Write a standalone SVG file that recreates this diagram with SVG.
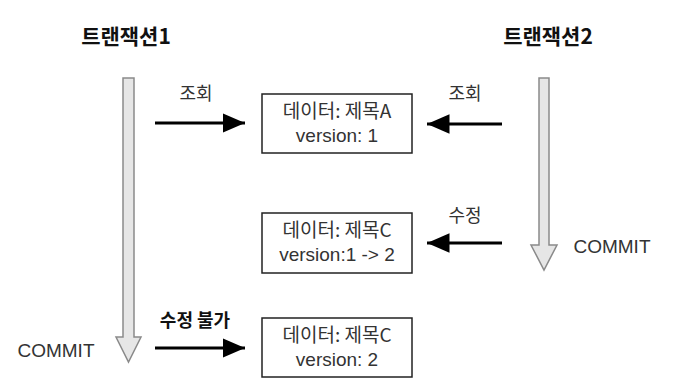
<svg xmlns="http://www.w3.org/2000/svg" width="683" height="387" viewBox="0 0 683 387">
<style>
text{font-family:"Noto Sans CJK KR","Noto Sans",sans-serif;fill:#333;}
.lat{font-family:"Liberation Sans","Noto Sans CJK KR",sans-serif;}
.title{font-size:21px;font-weight:bold;fill:#111;}
.lbl{font-size:18px;}
.commit{font-size:19px;}
.blbl{font-size:18px;font-weight:bold;fill:#111;}
.box rect{fill:#fff;stroke:#222;stroke-width:1.5;}
.box text{font-size:19px;text-anchor:middle;}
.tl{fill:#e6e6e6;stroke:#8a8a8a;stroke-width:1.5;}
.conn line{stroke:#000;stroke-width:3;}
</style>
<defs>
<marker id="ah" markerWidth="7.5" markerHeight="6.5" refX="7.5" refY="3.25" orient="auto" markerUnits="strokeWidth">
<path d="M0,0 L7.5,3.25 L0,6.5 z" fill="#000"/>
</marker>
</defs>
<rect width="683" height="387" fill="#fff"/>
<g id="tx1">
<text class="title" x="126" y="44" text-anchor="middle">트랜잭션1</text>
<path class="tl" d="M123,78 H134 V337 H141 L128.5,362 L116,337 H123 Z"/>
<text class="commit lat" x="56" y="357" text-anchor="middle">COMMIT</text>
</g>
<g id="tx2">
<text class="title" x="548" y="44" text-anchor="middle">트랜잭션2</text>
<path class="tl" d="M539,78 H549 V245 H557 L544,270 L531,245 H539 Z"/>
<text class="commit lat" x="612" y="253" text-anchor="middle">COMMIT</text>
</g>
<g id="box1" class="box">
<rect x="262" y="94" width="150" height="59"/>
<text x="337" y="118">데이터: 제목A</text>
<text class="lat" x="337" y="142">version: 1</text>
</g>
<g id="box2" class="box">
<rect x="262" y="213" width="150" height="60"/>
<text x="337" y="237">데이터: 제목C</text>
<text class="lat" x="337" y="261">version:1 -&gt; 2</text>
</g>
<g id="box3" class="box">
<rect x="262" y="318" width="150" height="59"/>
<text x="337" y="342">데이터: 제목C</text>
<text class="lat" x="337" y="366">version: 2</text>
</g>
<g id="connectors" class="conn">
<line x1="155" y1="123" x2="245" y2="123" marker-end="url(#ah)"/>
<line x1="502" y1="124" x2="427" y2="124" marker-end="url(#ah)"/>
<line x1="502" y1="243" x2="427" y2="243" marker-end="url(#ah)"/>
<line x1="155" y1="348" x2="245" y2="348" marker-end="url(#ah)"/>
</g>
<g id="labels">
<text class="lbl" x="196" y="100" text-anchor="middle">조회</text>
<text class="lbl" x="465" y="100" text-anchor="middle">조회</text>
<text class="lbl" x="465" y="222" text-anchor="middle">수정</text>
<text class="blbl" x="195" y="327" text-anchor="middle">수정 불가</text>
</g>
</svg>
